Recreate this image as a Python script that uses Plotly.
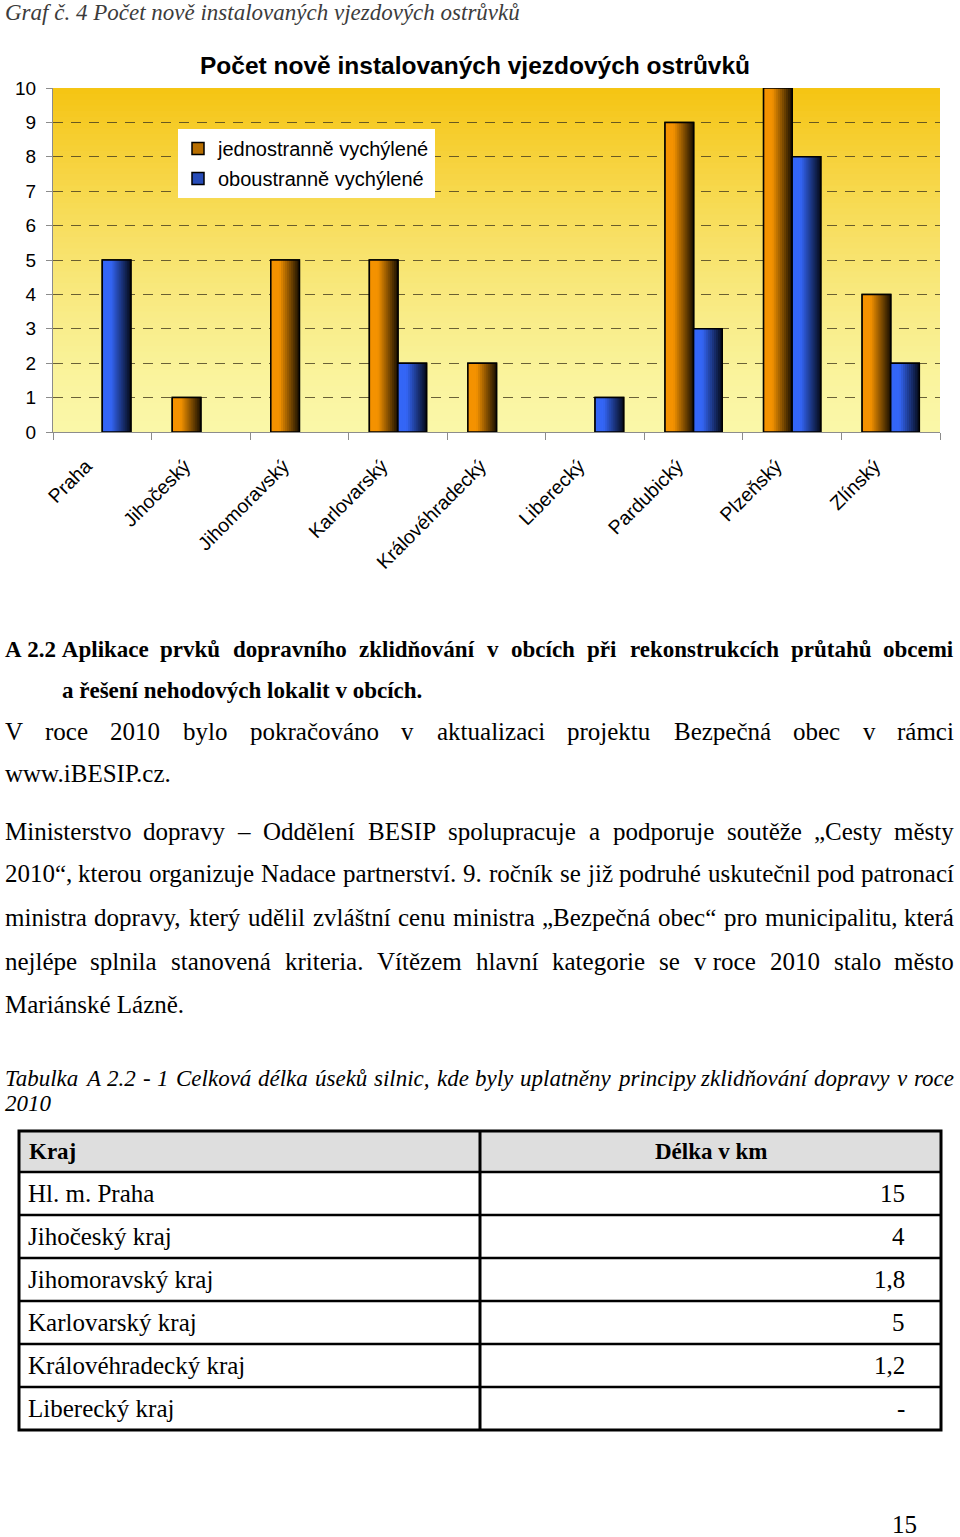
import unicodedata
import plotly.graph_objects as go

W, H = 960, 1537

# ---------------- chart data ----------------
categories = ["Praha", "Jihočeský", "Jihomoravský", "Karlovarský", "Královéhradecký",
              "Liberecký", "Pardubický", "Plzeňský", "Zlínský"]
jednostranne = [0, 1, 5, 5, 2, 0, 9, 10, 4]
oboustranne = [5, 0, 0, 2, 0, 1, 3, 8, 2]
series_names = ["jednostranně vychýlené", "oboustranně vychýlené"]
y_tick_values = [0, 1, 2, 3, 4, 5, 6, 7, 8, 9, 10]
chart_title = "Počet nově instalovaných vjezdových ostrůvků"
figure_caption = "Graf č. 4 Počet nově instalovaných vjezdových ostrůvků"

# ---------------- page text ----------------
heading_lines = ["A\u00a02.2\u00a0Aplikace prvků dopravního zklidňování v obcích při rekonstrukcích průtahů obcemi",
                 "a řešení nehodových lokalit v obcích."]
paragraph1 = ["V roce 2010 bylo pokračováno v aktualizaci projektu Bezpečná obec v rámci",
              "www.iBESIP.cz."]
paragraph2 = ["Ministerstvo dopravy – Oddělení BESIP spolupracuje a podporuje soutěže „Cesty městy",
              "2010“, kterou organizuje Nadace partnerství. 9. ročník se již podruhé uskutečnil pod patronací",
              "ministra dopravy, který udělil zvláštní cenu ministra „Bezpečná obec“ pro municipalitu, která",
              "nejlépe splnila stanovená kriteria. Vítězem hlavní kategorie se v\u00a0roce 2010 stalo město",
              "Mariánské Lázně."]
table_caption = ["Tabulka A 2.2 - 1 Celková délka úseků silnic, kde byly uplatněny principy zklidňování dopravy v roce",
                 "2010"]
table_header = ["Kraj", "Délka v km"]
table_regions = ["Hl. m. Praha", "Jihočeský kraj", "Jihomoravský kraj", "Karlovarský kraj",
                 "Královéhradecký kraj", "Liberecký kraj"]
table_values = ["15", "4", "1,8", "5", "1,2", "-"]
page_number = "15"

# ---------------- styles ----------------
SERIF = "Liberation Serif, Times New Roman, serif"
SANS = "Liberation Sans, Arial, sans-serif"
LOW = "abcdefghijklmnopqrstuvwxyz"
UP = "ABCDEFGHIJKLMNOPQRSTUVWXYZ"


def _metrics(lower, upper, extra):
    d = dict(zip(LOW, lower))
    d.update(zip(UP, upper))
    for c in "0123456789":
        d[c] = 500
    d.update({" ": 250, "\u00a0": 250, ".": 250, ",": 250, "-": 333, "–": 500, ":": 278})
    d.update(extra)
    return d


M_REG = _metrics([444, 500, 444, 500, 444, 333, 500, 500, 278, 278, 500, 278, 778, 500, 500, 500, 500, 333, 389, 278, 500, 500, 722, 500, 500, 444],
                 [722, 667, 667, 722, 611, 556, 722, 722, 333, 389, 722, 611, 889, 722, 722, 556, 722, 667, 556, 611, 722, 722, 944, 722, 722, 611],
                 {"„": 444, "“": 444})
M_BOLD = _metrics([500, 556, 444, 556, 444, 333, 500, 556, 278, 333, 556, 278, 833, 556, 500, 556, 556, 444, 389, 333, 556, 500, 722, 500, 500, 444],
                  [722, 667, 722, 722, 667, 611, 778, 778, 389, 500, 778, 667, 944, 722, 778, 611, 778, 722, 556, 667, 722, 722, 1000, 722, 722, 667],
                  {"„": 500, "“": 500, ":": 333})
M_ITAL = _metrics([500, 500, 444, 500, 444, 278, 500, 500, 278, 278, 444, 278, 722, 500, 500, 500, 500, 389, 389, 278, 500, 444, 667, 444, 444, 389],
                  [611, 611, 667, 722, 611, 611, 722, 722, 333, 444, 667, 556, 833, 667, 722, 611, 722, 611, 500, 556, 722, 611, 833, 611, 556, 556],
                  {"„": 556, "“": 556, ":": 333})


def tw(s, m):
    t = 0
    for ch in s:
        base = unicodedata.normalize("NFD", ch)[0]
        t += m.get(ch, m.get(base, 500))
    return t / 1000.0


anns = []


def text(s, x, y, size, family=SERIF, color="black", xanchor="left", bold=False, italic=False):
    if bold:
        s = "<b>%s</b>" % s
    if italic:
        s = "<i>%s</i>" % s
    anns.append(dict(text=s, x=x / W, y=1 - y / H, xref="paper", yref="paper",
                     xanchor=xanchor, yanchor="middle", showarrow=False, borderpad=0,
                     font=dict(family=family, size=size, color=color)))


def line(s, y, size, metrics, x0, x1, justify, **kw):
    if not justify:
        text(s, x0, y, size, **kw)
        return
    words = s.split(" ")
    ws = [tw(w, metrics) * size for w in words]
    gap = (x1 - x0 - sum(ws)) / (len(words) - 1)
    x = x0
    n = len(words)
    for i, (w, wd) in enumerate(zip(words, ws)):
        if i == 0:
            text(w, x0, y, size, xanchor="left", **kw)
        elif i == n - 1:
            text(w, x1, y, size, xanchor="right", **kw)
        else:
            text(w, x + wd / 2, y, size, xanchor="center", **kw)
        x += wd + gap


fig = go.Figure()

# ---------------- bars with horizontal gradient ----------------
BW = 0.29
NS = 14
bar_specs = [(jednostranne, series_names[0], (244, 146, 0), -BW),
             (oboustranne, series_names[1], (52, 102, 246), 0.0)]


def shade(c, f):
    return "rgb(%d,%d,%d)" % tuple(int(round(v * f)) for v in c)


for vals, name, base, off in bar_specs:
    shown = [v if v else None for v in vals]  # zero-height bars are not drawn
    fig.add_bar(x=categories, y=shown, width=BW, offset=off, name=name, legendgroup=name,
                marker=dict(color=shade(base, 0.75), line=dict(color="black", width=1.5)),
                hoverinfo="skip")
    for i in range(NS):
        t = (i + 0.5) / NS
        f = 1.0 if t < 0.3 else 1.0 - 0.9 * ((t - 0.3) / 0.7)
        step = BW / NS
        fig.add_bar(x=categories, y=shown, width=min(step * 1.6, BW - i * step), offset=off + i * step,
                    marker=dict(color=shade(base, f), line=dict(width=0)),
                    showlegend=False, legendgroup=name, hoverinfo="skip")
    fig.add_bar(x=categories, y=shown, width=BW, offset=off, showlegend=False, legendgroup=name,
                marker=dict(color="rgba(0,0,0,0)", line=dict(color="black", width=1.5)),
                hoverinfo="skip")

# ---------------- gradient plot background ----------------
shapes = []
top_c = (245, 196, 18)
bot_c = (250, 247, 168)
NG = 60
for i in range(NG):
    fr = (i + 0.5) / NG
    k = fr ** 1.4
    c = tuple(int(round(b + (t - b) * k)) for b, t in zip(bot_c, top_c))
    shapes.append(dict(type="rect", xref="x domain", yref="y domain", x0=0, x1=1,
                       y0=i / NG, y1=min(1, (i + 1) / NG + 0.003),
                       fillcolor="rgb(%d,%d,%d)" % c, line=dict(width=0), layer="below"))

# ---------------- table ----------------
TX0, TXM, TX1 = 19, 480, 941
TY = [1131, 1172, 1215, 1258, 1301, 1344, 1387, 1430]


def X(p):
    return p / W


def Y(p):
    return 1 - p / H


shapes.append(dict(type="rect", xref="paper", yref="paper", x0=X(TX0), x1=X(TX1), y0=Y(TY[1]), y1=Y(TY[0]),
                   fillcolor="#DEDEDE", line=dict(width=0)))
for yy in TY[1:-1]:
    shapes.append(dict(type="line", xref="paper", yref="paper", x0=X(TX0), x1=X(TX1), y0=Y(yy), y1=Y(yy),
                       line=dict(color="black", width=2.5)))
shapes.append(dict(type="line", xref="paper", yref="paper", x0=X(TXM), x1=X(TXM), y0=Y(TY[0]), y1=Y(TY[-1]),
                   line=dict(color="black", width=3)))
shapes.append(dict(type="rect", xref="paper", yref="paper", x0=X(TX0), x1=X(TX1), y0=Y(TY[-1]), y1=Y(TY[0]),
                   line=dict(color="black", width=3)))

text(table_header[0], 28, (TY[0] + TY[1]) / 2, 23, bold=True)
text(table_header[1], (TXM + TX1) / 2, (TY[0] + TY[1]) / 2, 23, bold=True, xanchor="center")
for r, (reg, val) in enumerate(zip(table_regions, table_values)):
    yc = (TY[r + 1] + TY[r + 2]) / 2
    text(reg, 27, yc, 25)
    text(val, 906, yc, 25, xanchor="right")

# ---------------- page text ----------------
text(figure_caption, 4, 12, 23, italic=True, color="#3c3c3c")
text("<b>%s</b>" % chart_title, 475, 66, 24.5, family=SANS, xanchor="center")

line(heading_lines[0], 650, 23, M_BOLD, 4, 955, True, bold=True)
line(heading_lines[1], 690, 23, M_BOLD, 61, 955, False, bold=True)

for s, yy, j in zip(paragraph1, [731, 773], [True, False]):
    line(s, yy, 25, M_REG, 4, 955, j)
for s, yy, j in zip(paragraph2, [831, 873, 917, 961, 1004], [True, True, True, True, False]):
    line(s, yy, 25, M_REG, 4, 955, j)
for s, yy, j in zip(table_caption, [1078, 1103], [True, False]):
    line(s, yy, 23, M_ITAL, 4, 955, j, italic=True)

text(page_number, 918, 1524, 25, xanchor="right")

# ---------------- layout ----------------
fig.update_layout(
    width=W, height=H, autosize=False,
    margin=dict(l=0, r=0, t=0, b=0, autoexpand=False),
    paper_bgcolor="white", plot_bgcolor="rgba(0,0,0,0)",
    barmode="overlay",
    showlegend=True,
    legend=dict(x=178 / W, y=1 - 129 / H, xanchor="left", yanchor="top", bgcolor="white",
                borderwidth=0, font=dict(family=SANS, size=20, color="black"),
                tracegroupgap=1, itemclick=False, itemdoubleclick=False),
    xaxis=dict(domain=[53 / W, 940 / W], type="category", range=[-0.5, len(categories) - 0.5],
               showgrid=False, showline=True, linecolor="#8c8c8c", linewidth=1,
               ticks="outside", tickson="boundaries", ticklen=7, tickcolor="#8c8c8c",
               tickangle=-45, ticklabelstandoff=14, ticklabelshift=-16,
               tickfont=dict(family=SANS, size=19.5, color="black"), fixedrange=True),
    yaxis=dict(domain=[1 - 432 / H, 1 - 88 / H], range=[0, 10], tickvals=y_tick_values,
               showgrid=True, gridcolor="rgba(70,60,30,0.8)", gridwidth=1, griddash="10px,8px",
               zeroline=False, showline=True, linecolor="#8c8c8c", linewidth=1,
               ticks="outside", ticklen=6, tickcolor="#8c8c8c", ticklabelstandoff=6,
               tickfont=dict(family=SANS, size=19, color="black"), fixedrange=True),
    shapes=shapes,
    annotations=anns,
)

fig.write_html("out.html", config={"displayModeBar": False})
